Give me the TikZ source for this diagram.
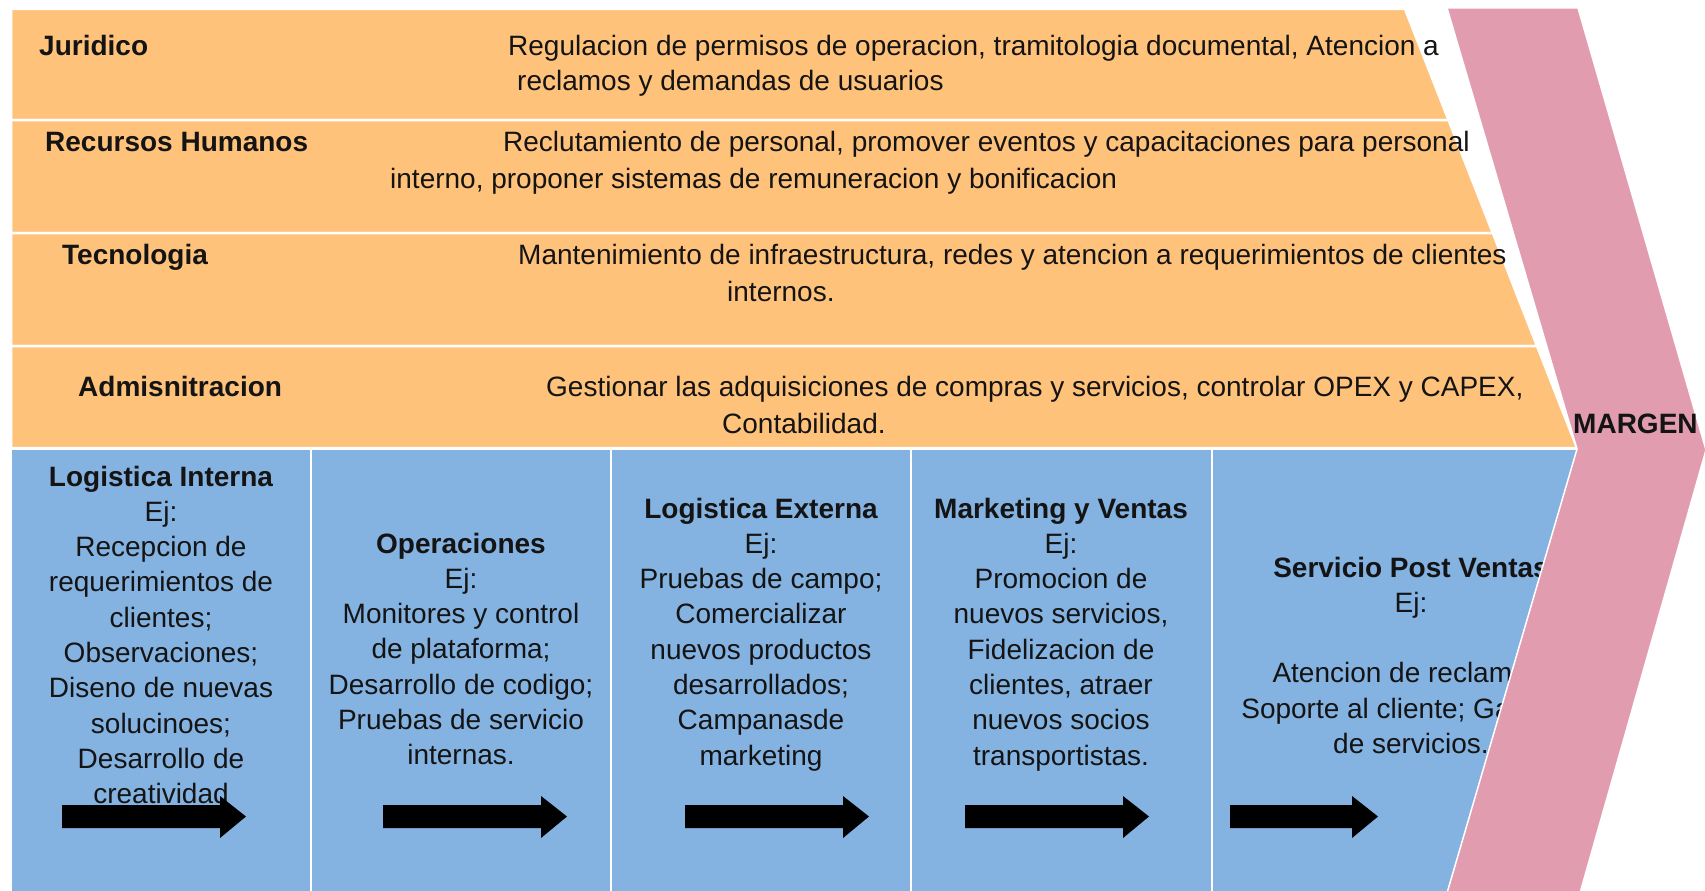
\documentclass[tikz,border=0pt]{standalone}
\usepackage{fontspec}
\setmainfont{Liberation Sans}
\definecolor{org}{HTML}{FFC27B}
\definecolor{blu}{HTML}{84B2E1}
\definecolor{pnk}{HTML}{E29CB0}
\definecolor{ink}{HTML}{141414}
\begin{document}
\begin{tikzpicture}[x=1pt,y=-1pt,
  txt/.style={inner sep=0pt, text=ink, font=\fontsize{28}{34}\selectfont},
  lbl/.style={txt, anchor=base west, font=\fontsize{28}{34}\selectfont\bfseries},
  desc/.style={txt, anchor=base west},
  ctxt/.style={txt, anchor=base},
  orow/.style={fill=org, draw=white, line width=2.5pt},
  bluebox/.style={fill=blu, draw=white, line width=1.5pt},
  sep/.style={draw=white, line width=2pt},
  chev/.style={fill=pnk, draw=white, line width=1.5pt},
  barrow/.style={fill=black}]
\useasboundingbox (0,0) rectangle (1705,891);

% support activities (orange rows)
\path[orow] (11,9) -- (1405,9) -- (1448.5,120) -- (11,120) -- cycle;
\path[orow] (11,120) -- (1448.5,120) -- (1492.8,233) -- (11,233) -- cycle;
\path[orow] (11,233) -- (1492.8,233) -- (1537,346) -- (11,346) -- cycle;
\path[orow] (11,346) -- (1537,346) -- (1577,448) -- (11,448) -- cycle;

% primary activities (blue)
\path[bluebox] (11,449) -- (1578,449) -- (1447,896) -- (11,896) -- cycle;
\coordinate (s1t) at (311,450); \coordinate (s1b) at (311,896);
\coordinate (s2t) at (611,450); \coordinate (s2b) at (611,896);
\coordinate (s3t) at (911,450); \coordinate (s3b) at (911,896);
\coordinate (s4t) at (1212,450); \coordinate (s4b) at (1212,896);
\draw[sep] (s1t) -- (s1b);
\draw[sep] (s2t) -- (s2b);
\draw[sep] (s3t) -- (s3b);
\draw[sep] (s4t) -- (s4b);

% orange row texts
\node[lbl] (jur) at (39,56) {Juridico};
\node[desc] (jur1) at (508,56) {Regulacion de permisos de operacion, tramitologia documental, Atencion a};
\node[desc] (jur2) at (517,91) {reclamos y demandas de usuarios};
\node[lbl] (rh) at (45,151) {Recursos Humanos};
\node[desc] (rh1) at (503,151) {Reclutamiento de personal, promover eventos y capacitaciones para personal};
\node[desc] (rh2) at (390,188) {interno, proponer sistemas de remuneracion y bonificacion};
\node[lbl] (tec) at (62,264) {Tecnologia};
\node[desc] (tec1) at (518,264) {Mantenimiento de infraestructura, redes y atencion a requerimientos de clientes};
\node[desc] (tec2) at (727,301) {internos.};
\node[lbl] (adm) at (78,396) {Admisnitracion};
\node[desc] (adm1) at (546,396) {Gestionar las adquisiciones de compras y servicios, controlar OPEX y CAPEX,};
\node[desc] (adm2) at (722,433) {Contabilidad.};

% blue column texts
\foreach \t [count=\i from 0] in {{\bfseries Logistica Interna}, Ej:, Recepcion de, requerimientos de, clientes;, Observaciones;, Diseno de nuevas, solucinoes;, Desarrollo de, creatividad}
  \node[ctxt] (li\i) at (161,{486+35.3*\i}) {\t};
\foreach \t [count=\i from 0] in {{\bfseries Operaciones}, Ej:, Monitores y control, de plataforma;, Desarrollo de codigo;, Pruebas de servicio, internas.}
  \node[ctxt] (op\i) at (461,{553+35.3*\i}) {\t};
\foreach \t [count=\i from 0] in {{\bfseries Logistica Externa}, Ej:, Pruebas de campo;, Comercializar, nuevos productos, desarrollados;, Campanasde, marketing}
  \node[ctxt] (le\i) at (761,{518+35.3*\i}) {\t};
\foreach \t [count=\i from 0] in {{\bfseries Marketing y Ventas}, Ej:, Promocion de, {nuevos servicios,}, Fidelizacion de, {clientes, atraer}, nuevos socios, transportistas.}
  \node[ctxt] (mv\i) at (1061,{518+35.3*\i}) {\t};
\foreach \t [count=\i from 0] in {{\bfseries Servicio Post Ventas}, Ej:, {}, Atencion de reclamos;, Soporte al cliente; Garantia, de servicios.}
  \node[ctxt] (sp\i) at (1411,{577+35.3*\i}) {\t};

% block arrows
\foreach \a/\b in {62/246, 383/567, 685/869, 965/1149, 1230/1378}
  \path[barrow] (\a,805) -- ({\b-26},805) -- ({\b-26},796) -- (\b,816.5) -- ({\b-26},838) -- ({\b-26},828) -- (\a,828) -- cycle;

% margin chevron
\path[chev] (1447,8) -- (1578,8) -- (1706,450) -- (1580,893) -- (1447,893) -- (1577,449) -- cycle;
\node[lbl] (mar) at (1573,433) {MARGEN};
\end{tikzpicture}
\end{document}
